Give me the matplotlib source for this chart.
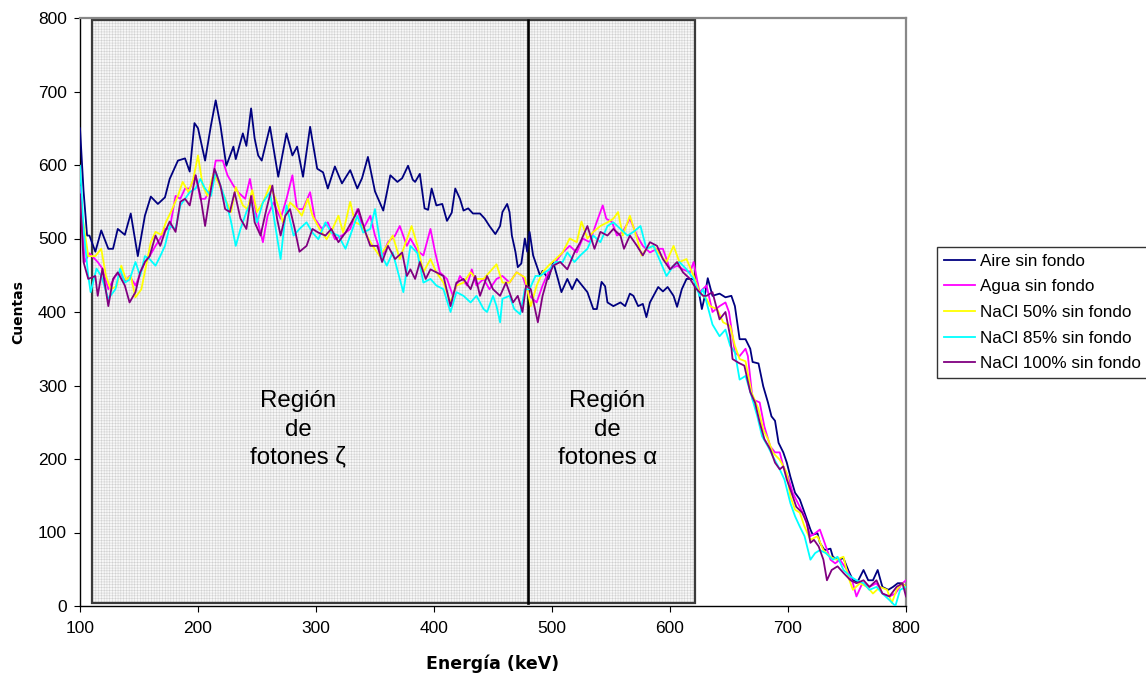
import matplotlib
matplotlib.use("Agg")
import matplotlib.pyplot as plt
from matplotlib.patches import Rectangle

plt.rcParams['font.family'] = ['Liberation Sans', 'DejaVu Sans']
plt.rcParams['hatch.linewidth'] = 0.35

# ---- Spectra (energy in keV, counts) ----
e_aire = [100, 101, 103, 106, 108, 113, 118, 124, 128, 132, 138, 143, 149, 155, 160, 166, 172, 176, 183, 189,
          193, 197, 200, 206, 211, 215, 219, 224, 230, 232, 238, 241, 245, 248, 251, 254, 261, 268, 275, 280,
          284, 289, 295, 301, 306, 310, 316, 322, 329, 335, 339, 344, 350, 357, 363, 369, 373, 378, 382, 384,
          388, 392, 395, 398, 402, 407, 411, 415, 418, 422, 425, 429, 433, 439, 443, 447, 452, 456, 458, 462,
          464, 466, 469, 471, 474, 477, 479, 481, 484, 487, 490, 492, 497, 501, 505, 508, 513, 517, 521, 526,
          530, 535, 538, 542, 545, 547, 552, 558, 562, 566, 569, 573, 577, 580, 583, 587, 590, 594, 598, 603,
          606, 610, 614, 619, 623, 627, 629, 632, 636, 642, 647, 652, 655, 659, 664, 668, 670, 675, 679, 683,
          686, 689, 692, 696, 699, 702, 706, 710, 714, 719, 721, 725, 727, 731, 736, 738, 742, 747, 751, 755,
          759, 764, 768, 772, 776, 780, 785, 789, 793, 797, 800]
c_aire = [650, 622, 565, 504, 504, 482, 511, 486, 486, 513, 505, 534, 476, 531, 557, 547, 556, 581, 606, 609,
          591, 657, 650, 606, 654, 688, 654, 599, 625, 608, 643, 626, 677, 636, 613, 606, 652, 584, 643, 613,
          625, 584, 652, 595, 590, 568, 598, 575, 593, 568, 582, 611, 564, 538, 586, 577, 582, 599, 580, 577,
          588, 541, 539, 568, 545, 547, 524, 535, 568, 554, 538, 541, 534, 534, 527, 517, 506, 517, 536, 547,
          536, 504, 482, 461, 466, 500, 482, 509, 477, 463, 449, 456, 445, 468, 445, 427, 445, 431, 445, 435,
          427, 404, 404, 441, 435, 413, 408, 413, 408, 425, 422, 408, 411, 393, 413, 425, 434, 428, 434, 422,
          407, 431, 445, 445, 440, 404, 418, 446, 422, 425, 420, 422, 408, 363, 363, 350, 332, 330, 299, 277,
          258, 252, 222, 209, 195, 176, 154, 145, 127, 104, 97, 99, 86, 76, 78, 67, 63, 65, 49, 35,
          33, 49, 35, 35, 49, 26, 22, 26, 31, 31, 25]

e_agua = [100, 102, 104, 108, 115, 119, 124, 130, 134, 138, 142, 147, 151, 155, 159, 164, 168, 172, 176, 181,
          185, 189, 193, 198, 202, 206, 211, 215, 221, 225, 230, 234, 240, 244, 250, 255, 259, 264, 270, 275,
          280, 284, 289, 295, 299, 305, 310, 316, 322, 329, 335, 340, 346, 350, 356, 361, 367, 371, 377, 380,
          386, 391, 397, 401, 405, 411, 416, 422, 428, 432, 436, 442, 447, 453, 458, 464, 470, 475, 481, 487,
          492, 498, 503, 509, 515, 521, 526, 532, 538, 543, 546, 551, 555, 560, 566, 572, 577, 583, 589, 594,
          600, 606, 611, 617, 620, 625, 631, 636, 642, 647, 650, 655, 659, 664, 666, 670, 676, 680, 685, 689,
          693, 696, 700, 704, 710, 714, 719, 723, 727, 731, 736, 740, 744, 750, 755, 758, 763, 769, 775, 780,
          786, 791, 797, 800]
c_agua = [570, 520, 468, 480, 468, 459, 431, 449, 454, 442, 449, 436, 452, 468, 476, 490, 500, 513, 513, 558,
          554, 568, 568, 586, 554, 554, 568, 606, 606, 586, 572, 563, 554, 581, 527, 495, 531, 549, 527, 554,
          586, 540, 540, 563, 527, 513, 522, 499, 504, 513, 540, 513, 531, 504, 476, 495, 504, 517, 490, 500,
          483, 477, 513, 481, 454, 445, 422, 449, 436, 458, 436, 445, 431, 445, 449, 440, 454, 449, 422, 413,
          436, 458, 468, 481, 490, 481, 500, 495, 523, 545, 527, 522, 504, 509, 527, 504, 490, 481, 486, 486,
          458, 463, 458, 454, 468, 427, 436, 400, 408, 413, 400, 345, 340, 350, 340, 281, 277, 244, 217, 209,
          209, 190, 176, 154, 135, 122, 95, 99, 104, 86, 63, 58, 63, 49, 31, 13, 31, 26, 31, 17,
          13, 17, 31, 35]

e_nacl50 = [100, 102, 104, 107, 113, 118, 122, 126, 131, 135, 139, 143, 147, 152, 156, 160, 164, 169, 173, 177,
            183, 187, 192, 196, 200, 204, 208, 213, 217, 223, 228, 232, 238, 242, 246, 250, 255, 261, 267, 272,
            278, 284, 288, 293, 297, 303, 309, 314, 319, 323, 329, 333, 339, 343, 348, 354, 360, 365, 371, 375,
            381, 386, 391, 397, 402, 408, 414, 419, 425, 431, 436, 442, 447, 453, 458, 464, 470, 477, 482, 487,
            492, 497, 503, 509, 515, 521, 525, 530, 535, 541, 547, 552, 556, 560, 566, 572, 576, 580, 586, 592,
            597, 603, 608, 614, 620, 625, 631, 634, 640, 645, 651, 655, 659, 664, 669, 675, 679, 683, 687, 693,
            699, 702, 706, 710, 714, 719, 725, 730, 736, 741, 747, 751, 755, 761, 767, 772, 778, 784, 788, 792,
            797, 800]
c_nacl50 = [555, 530, 509, 476, 476, 486, 449, 431, 435, 463, 444, 449, 420, 431, 463, 495, 509, 505, 523, 536,
            558, 577, 563, 581, 613, 572, 558, 588, 577, 554, 536, 570, 545, 540, 566, 536, 549, 572, 549, 522,
            549, 540, 531, 554, 531, 513, 499, 513, 531, 508, 550, 522, 518, 504, 490, 476, 490, 504, 472, 490,
            517, 490, 454, 472, 454, 440, 413, 436, 440, 454, 445, 445, 454, 465, 440, 440, 454, 447, 408, 436,
            454, 463, 472, 481, 500, 495, 523, 500, 509, 517, 522, 527, 536, 504, 531, 500, 477, 486, 490, 477,
            468, 490, 468, 472, 449, 427, 418, 408, 404, 386, 381, 354, 336, 333, 291, 268, 240, 227, 209, 199,
            181, 149, 131, 127, 108, 90, 95, 76, 67, 63, 67, 40, 22, 31, 26, 17, 26, 22, 4, 22,
            31, 25]

e_nacl85 = [100, 103, 107, 109, 114, 118, 124, 130, 134, 138, 142, 147, 151, 155, 159, 164, 168, 172, 176, 181,
            185, 189, 193, 198, 202, 206, 211, 215, 219, 224, 228, 232, 236, 241, 245, 250, 255, 261, 265, 270,
            275, 281, 286, 292, 297, 302, 308, 313, 319, 325, 329, 335, 340, 346, 350, 356, 360, 365, 371, 374,
            378, 380, 386, 391, 397, 402, 408, 414, 419, 425, 431, 436, 442, 445, 450, 453, 456, 458, 464, 468,
            473, 477, 481, 486, 490, 494, 498, 503, 509, 513, 519, 524, 530, 535, 541, 547, 552, 558, 564, 569,
            575, 580, 586, 592, 597, 603, 608, 614, 620, 625, 628, 631, 636, 642, 647, 651, 655, 659, 664, 669,
            674, 678, 683, 687, 693, 697, 702, 706, 710, 714, 719, 723, 727, 732, 738, 742, 747, 753, 758, 764,
            769, 775, 780, 786, 791, 795, 800]
c_nacl85 = [599, 513, 449, 427, 459, 449, 418, 431, 459, 440, 444, 468, 449, 476, 472, 463, 476, 490, 517, 513,
            545, 554, 563, 568, 581, 568, 558, 591, 572, 549, 523, 490, 513, 536, 549, 522, 549, 563, 522, 472,
            545, 504, 513, 522, 508, 499, 522, 508, 504, 486, 504, 531, 508, 513, 540, 476, 463, 481, 445, 427,
            468, 490, 480, 440, 445, 436, 431, 400, 427, 422, 413, 422, 404, 400, 422, 408, 386, 418, 422, 404,
            397, 431, 431, 449, 449, 454, 458, 468, 468, 481, 468, 477, 486, 504, 495, 517, 522, 513, 504, 509,
            517, 486, 490, 468, 449, 463, 468, 458, 445, 422, 431, 413, 383, 367, 376, 354, 345, 308, 313, 286,
            258, 231, 217, 204, 186, 172, 140, 122, 108, 95, 63, 72, 76, 72, 63, 67, 49, 40, 35, 31,
            22, 26, 17, 8, 0, 22, 26]

e_nacl100 = [100, 103, 107, 113, 115, 119, 124, 128, 132, 138, 142, 147, 151, 155, 159, 164, 168, 172, 176, 181,
             185, 189, 193, 198, 202, 206, 210, 214, 219, 223, 227, 231, 236, 241, 245, 248, 253, 258, 263, 267,
             270, 274, 278, 282, 286, 292, 297, 302, 308, 313, 319, 325, 330, 336, 342, 346, 352, 356, 361, 367,
             373, 377, 380, 384, 388, 393, 397, 402, 408, 414, 419, 425, 431, 435, 439, 445, 450, 456, 461, 467,
             471, 475, 478, 482, 488, 492, 496, 501, 507, 513, 519, 524, 530, 536, 541, 547, 552, 558, 561, 566,
             572, 577, 583, 589, 594, 600, 606, 611, 617, 622, 628, 631, 636, 642, 647, 651, 653, 658, 663, 668,
             672, 676, 680, 685, 689, 693, 696, 699, 703, 707, 712, 716, 719, 722, 726, 730, 733, 737, 742, 747,
             753, 758, 764, 769, 775, 780, 786, 792, 797, 800]
c_nacl100 = [560, 468, 445, 449, 422, 459, 408, 445, 454, 436, 413, 427, 454, 468, 476, 504, 490, 509, 523, 509,
             550, 554, 545, 586, 558, 517, 558, 595, 572, 540, 536, 563, 527, 513, 558, 522, 504, 540, 572, 527,
             504, 531, 540, 513, 482, 490, 513, 508, 504, 513, 495, 508, 522, 540, 508, 490, 490, 468, 490, 472,
             481, 449, 458, 445, 468, 445, 458, 454, 449, 408, 440, 445, 431, 449, 422, 449, 431, 422, 440, 413,
             422, 400, 436, 431, 386, 422, 445, 463, 468, 458, 481, 495, 517, 486, 509, 504, 513, 504, 486, 504,
             490, 477, 495, 490, 472, 458, 468, 454, 445, 432, 422, 422, 427, 390, 400, 367, 336, 331, 327, 291,
             277, 250, 227, 213, 195, 186, 190, 172, 154, 135, 127, 113, 86, 90, 81, 63, 35, 49, 54, 45,
             35, 31, 35, 26, 35, 17, 13, 26, 31, 13]

series = [
    ("Aire sin fondo", e_aire, c_aire, "#000080"),
    ("Agua sin fondo", e_agua, c_agua, "#FF00FF"),
    ("NaCl 50% sin fondo", e_nacl50, c_nacl50, "#FFFF00"),
    ("NaCl 85% sin fondo", e_nacl85, c_nacl85, "#00FFFF"),
    ("NaCl 100% sin fondo", e_nacl100, c_nacl100, "#800080"),
]

# Energy windows (keV) and their labels
zona_ini, zona_div, zona_fin = 110, 480, 621
zona_y0, zona_y1 = 4, 797
etiqueta_zeta = "Región\nde\nfotones ζ"
etiqueta_alfa = "Región\nde\nfotones α"

fig = plt.figure(figsize=(11.46, 6.79), dpi=100)
ax = fig.add_axes([80 / 1146, 1 - 606 / 679, 826 / 1146, 588 / 679])

# finely hatched background for the photon regions
ax.add_patch(Rectangle((zona_ini, zona_y0), zona_fin - zona_ini, zona_y1 - zona_y0,
                       facecolor="#f7f7f7", edgecolor="#cfcfcf", hatch="++++++",
                       linewidth=0, zorder=1))
ax.add_patch(Rectangle((zona_ini, zona_y0), zona_fin - zona_ini, zona_y1 - zona_y0,
                       facecolor="none", edgecolor="#3a3a3a", linewidth=1.6, zorder=2))
ax.plot([zona_div, zona_div], [zona_y0, zona_y1], color="black", linewidth=1.9, zorder=2)

for nombre, e, c, col in series:
    ax.plot(e, c, color=col, linewidth=1.3, label=nombre, zorder=3)

ax.text(285, 240, etiqueta_zeta, ha="center", va="center", fontsize=17.3,
        linespacing=1.36, zorder=4)
ax.text(547, 240, etiqueta_alfa, ha="center", va="center", fontsize=17.3,
        linespacing=1.36, zorder=4)

ax.set_xlim(100, 800)
ax.set_ylim(0, 800)
ax.set_xticks(range(100, 801, 100))
ax.set_yticks(range(0, 801, 100))
ax.tick_params(axis="both", labelsize=12.5, direction="out", color="black")
ax.tick_params(axis="x", length=4, pad=7)
ax.tick_params(axis="y", length=4.5, pad=5)

for s in ("left", "bottom"):
    ax.spines[s].set_color("black")
    ax.spines[s].set_linewidth(1.0)
for s in ("top", "right"):
    ax.spines[s].set_color("#888888")
    ax.spines[s].set_linewidth(1.6)

ax.set_xlabel("Energía (keV)", fontsize=12.5, fontweight="bold", family="DejaVu Sans", labelpad=13)
ax.set_ylabel("Cuentas", fontsize=10, fontweight="bold", family="DejaVu Sans", labelpad=9)

leg = ax.legend(loc="upper left", bbox_to_anchor=(937 / 1146, 1 - 247 / 679),
                bbox_transform=fig.transFigure, fontsize=12.3, frameon=True,
                fancybox=False, shadow=False, borderaxespad=0, borderpad=0.4,
                labelspacing=0.62, handlelength=1.8, handletextpad=0.3)
leg.get_frame().set_edgecolor("black")
leg.get_frame().set_linewidth(1.0)

fig.savefig("out.png", dpi=100)
